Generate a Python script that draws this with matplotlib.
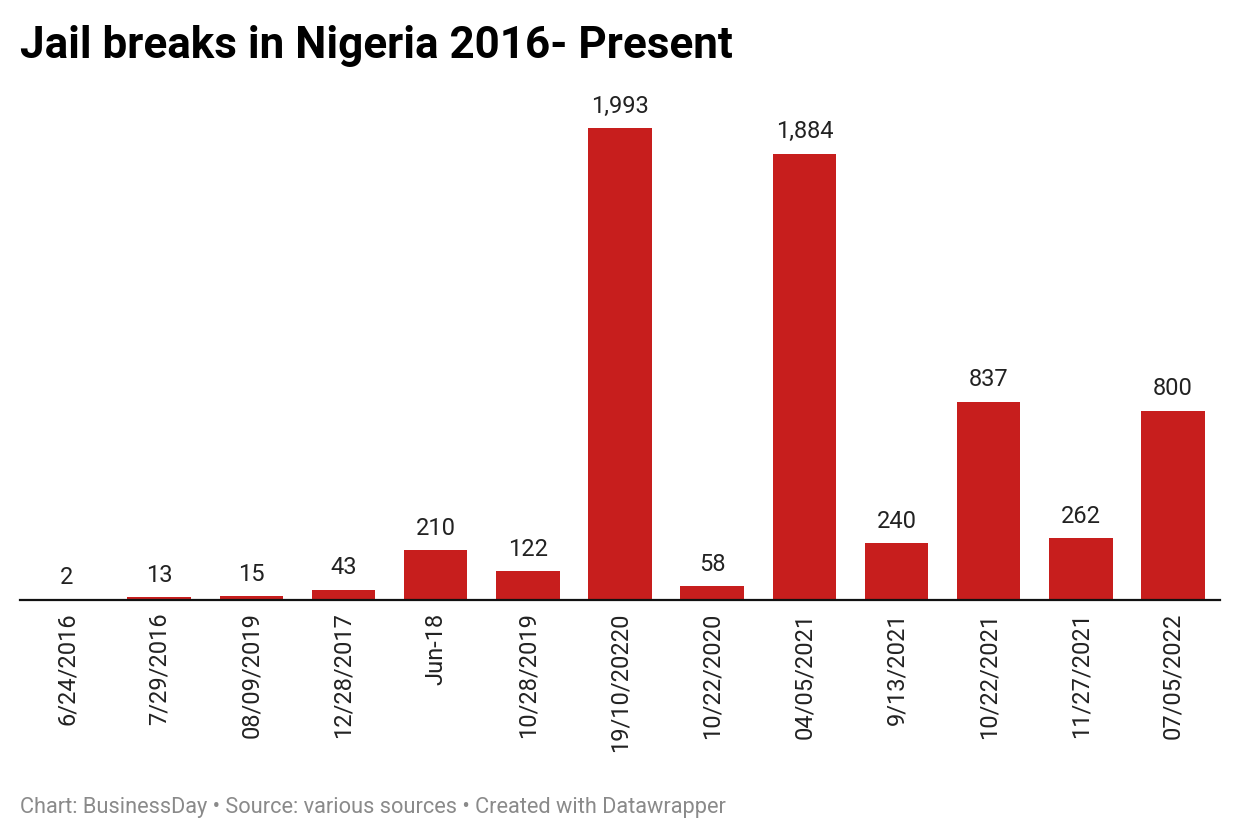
import matplotlib.pyplot as plt
import numpy as np

plt.rcParams['font.family'] = ['Roboto', 'DejaVu Sans']

dates = ['6/24/2016', '7/29/2016', '08/09/2019', '12/28/2017', 'Jun-18',
         '10/28/2019', '19/10/20220', '10/22/2020', '04/05/2021', '9/13/2021',
         '10/22/2021', '11/27/2021', '07/05/2022']
escapees = [2, 13, 15, 43, 210, 122, 1993, 58, 1884, 240, 837, 262, 800]

bar_color = '#c71e1d'

fig = plt.figure(figsize=(12.4, 8.4), dpi=100)
# axes: left 20px, right 1220px, bottom (baseline) 600px, top 100px
ax = fig.add_axes([20 / 1240, 1 - 600 / 840, 1200 / 1240, 500 / 840])

x = np.arange(len(dates))
bars = ax.bar(x, escapees, width=0.69, color=bar_color, zorder=2)

ax.set_xlim(-0.51, len(dates) - 0.49)
ax.set_ylim(0, 500 / (472 / 1993))

for xi, v in zip(x, escapees):
    ax.annotate(f'{v:,}', (xi, v), xytext=(0, 7.5), textcoords='offset points',
                ha='center', va='bottom', fontsize=17, color='#222222')

ax.set_xticks(x)
ax.set_xticklabels(dates, rotation=90, fontsize=17, color='#222222',
                   va='top', ha='center')
ax.tick_params(axis='x', length=0, pad=9)
ax.set_yticks([])
for side in ['left', 'right', 'top']:
    ax.spines[side].set_visible(False)
ax.spines['bottom'].set_linewidth(1.6)
ax.spines['bottom'].set_color('#111111')
ax.spines['bottom'].set_zorder(3)

fig.text(20 / 1240, 1 - 46 / 840, 'Jail breaks in Nigeria 2016- Present',
         fontsize=31.7, fontweight='bold', color='#000000', va='center', ha='left')
fig.text(20 / 1240, 1 - 808 / 840,
         'Chart: BusinessDay \u2022 Source: various sources \u2022 Created with Datawrapper',
         fontsize=15.7, color='#8a8a8a', va='center', ha='left')

fig.savefig('out.png', dpi=100, facecolor='white')
